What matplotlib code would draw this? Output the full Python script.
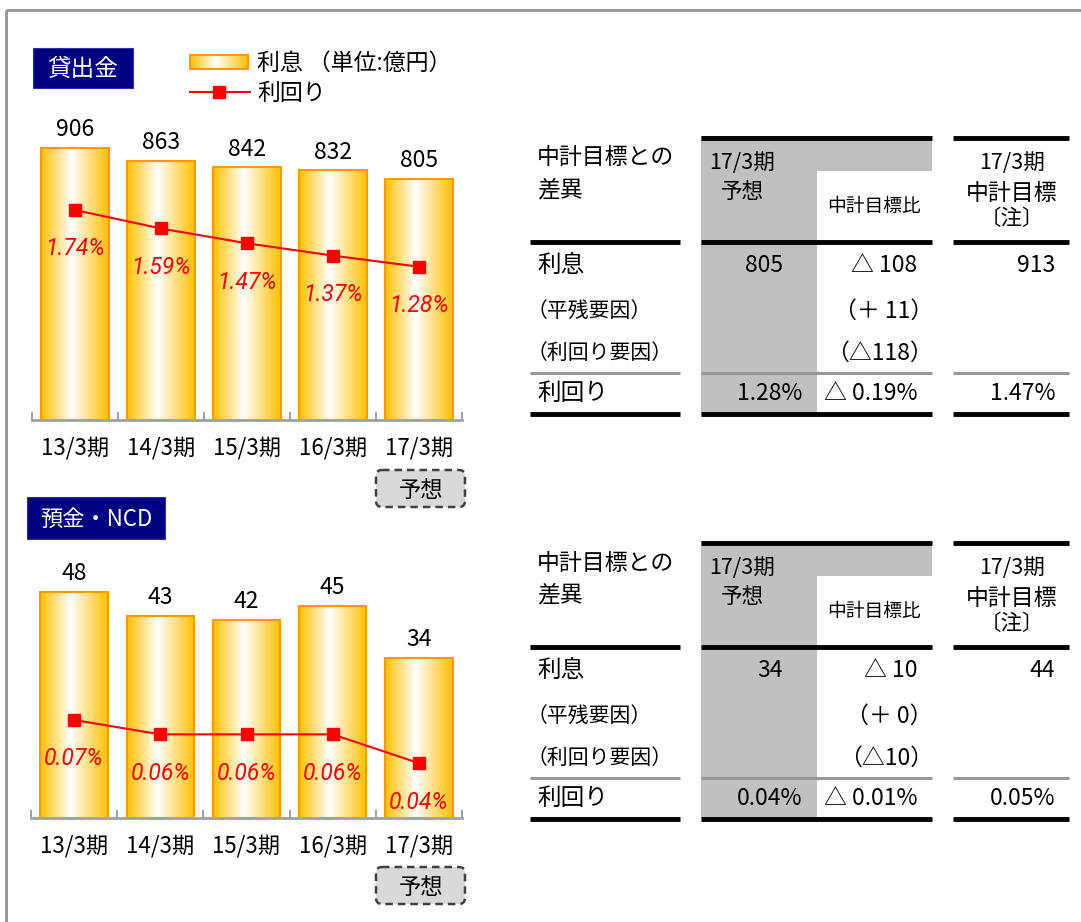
import numpy as np
import matplotlib
matplotlib.use('Agg')
import matplotlib.pyplot as plt
from matplotlib.colors import LinearSegmentedColormap
from matplotlib.patches import Rectangle, FancyBboxPatch

plt.rcParams['font.family'] = ['Noto Sans CJK JP', 'DejaVu Sans']

# data
categories = ['13/3期', '14/3期', '15/3期', '16/3期', '17/3期']
loan_interest = [906, 863, 842, 832, 805]
loan_rate = [1.74, 1.59, 1.47, 1.37, 1.28]
deposit_interest = [48, 43, 42, 45, 34]
deposit_rate = [0.07, 0.06, 0.06, 0.06, 0.04]

row_labels = ['利息', '（平残要因）', '（利回り要因）', '利回り']
loan_forecast = ['805', '', '', '1.28%']
loan_vs_plan = ['△ 108', '（＋ 11）', '（△118）', '△ 0.19%']
loan_plan = ['913', '', '', '1.47%']
deposit_forecast = ['34', '', '', '0.04%']
deposit_vs_plan = ['△ 10', '（＋ 0）', '（△10）', '△ 0.01%']
deposit_plan = ['44', '', '', '0.05%']

W, H = 1081, 922
fig = plt.figure(figsize=(W / 100, H / 100), dpi=100)

# background layer in pixel coordinates (y downwards)
bg = fig.add_axes([0, 0, 1, 1], zorder=0)
bg.axis('off')

gold = LinearSegmentedColormap.from_list('gold', [(0, '#FFC000'), (0.45, '#FFFFFF'), (1, '#FFC000')])
grad = np.linspace(0, 1, 256).reshape(1, -1)
pct_font = ['Roboto', 'Liberation Sans', 'DejaVu Sans']


def draw_chart(x0, y0, x1, y1, values, rates, ymax, rlim):
    ax = fig.add_axes([x0 / W, 1 - y1 / H, (x1 - x0) / W, (y1 - y0) / H], zorder=2)
    ax.patch.set_visible(False)
    xs = np.arange(len(categories))
    bars = ax.bar(xs, values, width=0.78, facecolor='none', edgecolor='#FF9900', linewidth=1.5, zorder=3)
    for b in bars:
        ax.imshow(grad, cmap=gold, extent=[b.get_x(), b.get_x() + b.get_width(), 0, b.get_height()],
                  aspect='auto', interpolation='bilinear', zorder=2)
    ax.set_xlim(-0.5, len(xs) - 0.5)
    ax.set_ylim(0, ymax)
    ax.bar_label(bars, padding=5, fontsize=16.5)
    for s in ['top', 'left', 'right']:
        ax.spines[s].set_visible(False)
    ax.spines['bottom'].set_color('#A0A0A0')
    ax.spines['bottom'].set_linewidth(2)
    ax.set_yticks([])
    ax.set_xticks(xs, categories)
    ax.set_xticks(np.arange(-0.5, len(xs)), minor=True)
    ax.tick_params(axis='x', which='major', length=0, pad=12, labelsize=16)
    ax.tick_params(axis='x', which='minor', direction='in', length=6, width=1.5, color='#A0A0A0')

    ax2 = ax.twinx()
    ax2.set_ylim(*rlim)
    ax2.plot(xs, rates, color='red', lw=1.5, marker='s', ms=9, zorder=4)
    ax2.axis('off')
    for x, r in zip(xs, rates):
        ax2.annotate(f'{r:.2f}%', (x, r), xytext=(0, -28), textcoords='offset points',
                     ha='center', va='center', color='red', style='italic', fontsize=16.5, family=pct_font)
    return ax


draw_chart(32, 100, 462, 420, loan_interest, loan_rate, 1067, (0.037, 2.632))
draw_chart(31, 520, 462, 818, deposit_interest, deposit_rate, 63.3, (0.0019, 0.2089))

# frame
bg.add_patch(Rectangle((6, 10), 1200, 1000, fill=False, edgecolor='#9A9A9A', lw=2.2))

# section titles
bg.add_patch(Rectangle((33, 48), 100, 40, facecolor='#000080', edgecolor='#3030A0', lw=0.8))
bg.text(83, 69, '貸出金', color='white', fontsize=17, ha='center', va='center')
bg.add_patch(Rectangle((27, 497), 138, 42, facecolor='#000080', edgecolor='#3030A0', lw=0.8))
bg.text(96, 519, '預金・NCD', color='white', fontsize=16, ha='center', va='center')

# legend
bg.imshow(grad, cmap=gold, extent=(190, 248, 69, 55), aspect='auto', interpolation='bilinear')
bg.add_patch(Rectangle((190, 55), 58, 14, fill=False, edgecolor='#FF9900', lw=1.5))
bg.text(257, 63, '利息 （単位:億円）', fontsize=16.5, va='center')
bg.plot([190, 250], [92, 92], color='red', lw=1.5)
bg.plot([219], [92], marker='s', ms=9, color='red')
bg.text(257, 93, '利回り', fontsize=16.5, va='center')

# forecast tags
for top in [470, 867]:
    bg.add_patch(FancyBboxPatch((376, top), 89, 37, boxstyle='round,pad=0,rounding_size=6',
                                facecolor='#D9D9D9', edgecolor='#404040', linestyle=(0, (3, 2)), lw=1.8))
    bg.text(421, top + 20, '予想', fontsize=16, ha='center', va='center')


def draw_table(off, forecast, vs_plan, plan):
    bg.add_patch(Rectangle((701, 136 + off), 116, 278, facecolor='#C0C0C0', lw=0))
    bg.add_patch(Rectangle((701, 136 + off), 231, 35, facecolor='#C0C0C0', lw=0))
    spans = [(530, 680), (701, 932), (953, 1069)]
    for a, b in spans[1:]:
        bg.plot([a, b], [138 + off] * 2, color='black', lw=3.5, solid_capstyle='butt')
    for a, b in spans:
        bg.plot([a, b], [242 + off] * 2, color='black', lw=3.5, solid_capstyle='butt')
        bg.plot([a, b], [373 + off] * 2, color='#999999', lw=2.2, solid_capstyle='butt')
        bg.plot([a, b], [414 + off] * 2, color='black', lw=3.5, solid_capstyle='butt')
    bg.text(537, 158 + off, '中計目標との', fontsize=16.5, va='center')
    bg.text(537, 190 + off, '差異', fontsize=16.5, va='center')
    bg.text(742, 163 + off, '17/3期', fontsize=15.5, ha='center', va='center')
    bg.text(742, 192 + off, '予想', fontsize=15.5, ha='center', va='center')
    bg.text(874, 206 + off, '中計目標比', fontsize=13.5, ha='center', va='center')
    bg.text(1012, 163 + off, '17/3期', fontsize=15.5, ha='center', va='center')
    bg.text(1012, 193 + off, '中計目標', fontsize=16.5, ha='center', va='center')
    bg.text(1012, 219 + off, '〔注〕', fontsize=15.5, ha='center', va='center')
    row_y = [265, 311, 353, 393]
    for y, lab, f, v, p in zip(row_y, row_labels, forecast, vs_plan, plan):
        if lab.startswith('（'):
            bg.text(527, y + off, lab, fontsize=15, va='center')
        else:
            bg.text(537, y + off, lab, fontsize=17, va='center')
        bg.text(802 if f.endswith('%') else 783, y + off, f, fontsize=16.5, ha='right', va='center')
        bg.text(933 if v.endswith('）') else 917, y + off, v, fontsize=16.5, ha='right', va='center')
        bg.text(1055, y + off, p, fontsize=16.5, ha='right', va='center')


draw_table(0, loan_forecast, loan_vs_plan, loan_plan)
draw_table(405, deposit_forecast, deposit_vs_plan, deposit_plan)

bg.set_xlim(0, W)
bg.set_ylim(H, 0)

fig.savefig('out.png', dpi=100)
